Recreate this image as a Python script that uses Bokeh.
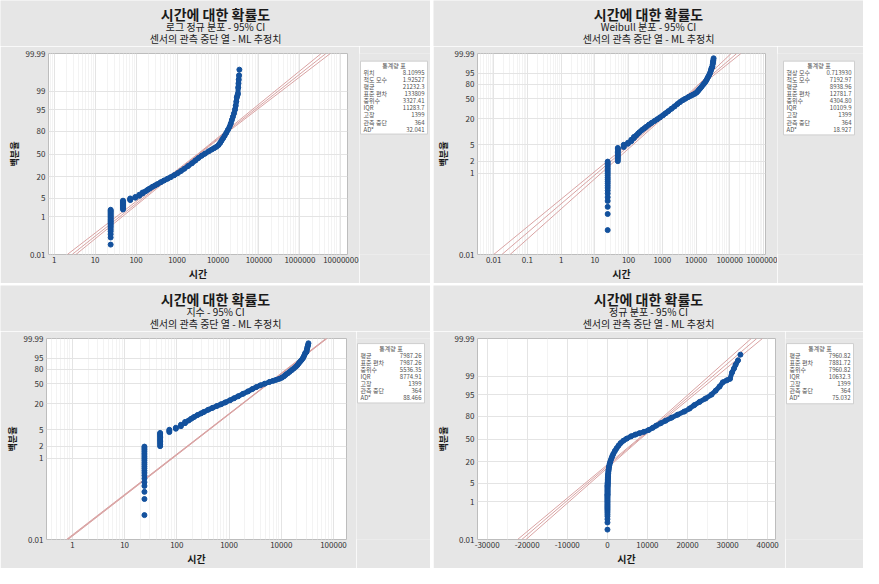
import math
from statistics import NormalDist
from bokeh.plotting import figure
from bokeh.models import FixedTicker, Range1d
from bokeh.core.properties import value
from bokeh.layouts import column, row
from bokeh.embed import file_html
from bokeh.resources import INLINE

# ---------------- data (hours, cumulative failure %) ----------------
cluster_hours = [24, 48, 72, 96, 120, 144]
cluster_pct = [
    [0.04, 0.10, 0.15, 0.21, 0.26, 0.32, 0.38, 0.44, 0.50, 0.57, 0.64, 0.72, 0.80,
     0.90, 1.00, 1.10, 1.22, 1.35, 1.50, 1.65, 1.80, 1.95],
    [2.00, 2.20, 2.40, 2.60, 2.80, 3.00, 3.25, 3.50, 3.75, 4.00, 4.20],
    [4.40, 4.70, 5.00],
    [5.30, 5.60],
    [6.10, 6.60],
    [7.20, 7.70],
]
band_hours = [168, 190, 213, 250, 290, 330, 400, 480, 586, 700, 850, 1045, 1250, 1500,
              1862, 2300, 2800, 3313, 4000, 4800, 5930, 7000, 8000, 9130, 10300, 11300,
              12200, 13300, 14500, 16000, 17500, 19200, 20500, 21700, 23000, 24500,
              26000, 27000, 28000, 28800, 29800, 30600, 31100, 31600, 32000, 32600]
band_pct = [8.3, 9.2, 10.0, 11.2, 12.2, 13.2, 14.8, 16.3, 18.0, 19.6, 21.6, 24.0, 26.5,
            29.2, 32.8, 36.5, 40.5, 44.0, 47.5, 50.5, 54.0, 56.5, 58.5, 60.5, 63.0, 66.0,
            69.0, 72.0, 75.0, 78.5, 81.5, 84.5, 87.0, 89.5, 91.5, 93.3, 95.0, 96.3, 97.4,
            98.2, 98.5, 98.7, 99.3, 99.55, 99.7, 99.82]
last_hours = [33200]
last_pct = [99.91]

# fitted line and 95% CI (hours at 0.01 %, 50 %, 99.99 %)
fit_pct = [0.01, 50, 99.99]
fit_lognormal = {"lo": [2.1, 3200, 3.3e6], "mid": [2.75, 3327, 4.3e6], "hi": [3.4, 3460, 5.5e6]}
fit_weibull = {"lo": [0.0100, 4150, 110000], "mid": [0.0175, 4305, 161000], "hi": [0.0306, 4460, 214000]}
fit_expo = {"lo": [0.77, 5430, 71500], "mid": [0.80, 5536, 73560], "hi": [0.83, 5640, 75600]}
fit_normal = {"lo": [-22400, 7700, 35900], "mid": [-21350, 7961, 37274], "hi": [-20300, 8220, 38700]}

# axis ticks
log_ticks_lognormal = [1, 10, 100, 1000, 10000, 100000, 1000000, 10000000]
log_ticks_weibull = [0.01, 0.1, 1, 10, 100, 1000, 10000, 100000, 1000000]
log_ticks_expo = [1, 10, 100, 1000, 10000, 100000]
lin_ticks_normal = [-30000, -20000, -10000, 0, 10000, 20000, 30000, 40000]
y_ticks_normal = [0.01, 1, 5, 20, 50, 80, 95, 99, 99.99]
y_ticks_weibull = [0.01, 1, 2, 5, 20, 50, 80, 95, 99.99]

# texts
title_main = "시간에 대한 확률도"
title_sub2 = "센서의 관측 중단 열 - ML 추정치"
subtitles = ["로그 정규 분포 - 95% CI", "Weibull 분포 - 95% CI", "지수 - 95% CI", "정규 분포 - 95% CI"]
x_label = "시간"
y_label = "백분율"
stat_header = "통계량 표"
stats_lognormal = [("위치", "8.10995"), ("척도 모수", "1.92527"), ("평균", "21232.3"),
                   ("표준 편차", "133809"), ("중위수", "3327.41"), ("IQR", "11283.7"),
                   ("고장", "1399"), ("관측 중단", "364"), ("AD*", "32.041")]
stats_weibull = [("형상 모수", "0.713930"), ("척도 모수", "7192.97"), ("평균", "8938.96"),
                 ("표준 편차", "12781.7"), ("중위수", "4304.80"), ("IQR", "10109.9"),
                 ("고장", "1399"), ("관측 중단", "364"), ("AD*", "18.927")]
stats_expo = [("평균", "7987.26"), ("표준 편차", "7987.26"), ("중위수", "5536.35"),
              ("IQR", "8774.91"), ("고장", "1399"), ("관측 중단", "364"), ("AD*", "88.466")]
stats_normal = [("평균", "7960.82"), ("표준 편차", "7881.72"), ("중위수", "7960.82"),
                ("IQR", "10632.3"), ("고장", "1399"), ("관측 중단", "364"), ("AD*", "75.032")]

# ---------------- styling ----------------
FONT = "Noto Sans CJK KR"
BG = "#e6e6e6"
DOT = "#13519d"
FITC = "#d9a3a3"
TXT = "#1a1a1a"
STXT = "#505050"
W, H = 430, 283
TH = 46          # height of the title strip
TOP = 7          # border above the frame inside the plot figure
BOTTOM = 27
ND = NormalDist()


def zq(p):
    return ND.inv_cdf(p / 100.0)


def wq(p):
    return math.log(-math.log(1.0 - p / 100.0))


def blank(width, height):
    f = figure(width=width, height=height, x_range=Range1d(0, width), y_range=Range1d(0, height),
               output_backend="svg", toolbar_location=None, tools="",
               x_axis_location=None, y_axis_location=None,
               min_border_left=0, min_border_right=0, min_border_top=0, min_border_bottom=0,
               background_fill_color=BG, border_fill_color=BG, outline_line_color=None)
    f.grid.visible = False
    f.title.visible = False
    return f


def make_panel(kind, sub, stats, fit, left, fw, rb, box):
    ph = H - TH
    pw = left + fw + rb
    sw = W - pw
    if kind == "normal":
        ytf = zq
        xr = Range1d(-32400, 41950)
        xtype = "linear"
        xt = lin_ticks_normal
        xminor = [v + 5000 for v in lin_ticks_normal[:-1]]
        xlabels = [str(v) for v in lin_ticks_normal]
        yt = y_ticks_normal
    else:
        xtype = "log"
        if kind == "lognormal":
            ytf = zq
            xr = Range1d(10 ** -0.137, 10 ** 7.16)
            xt = log_ticks_lognormal
            yt = y_ticks_normal
        elif kind == "weibull":
            ytf = wq
            xr = Range1d(10 ** -2.48, 10 ** 6.06)
            xt = log_ticks_weibull
            yt = y_ticks_weibull
        else:
            ytf = wq
            xr = Range1d(10 ** -0.495, 10 ** 5.25)
            xt = log_ticks_expo
            yt = y_ticks_weibull
        xminor = []
        for d in [xt[0] / 10] + xt:
            for k in range(2, 10):
                v = d * k
                if xr.start <= v <= xr.end:
                    xminor.append(v)
        xlabels = [("%g" % v) if v < 1 else str(int(v)) for v in xt]
    yr = Range1d(ytf(0.01), ytf(99.99))

    p = figure(width=pw, height=ph, x_axis_type=xtype, x_range=xr, y_range=yr,
               output_backend="svg", toolbar_location=None, tools="",
               min_border_left=left, min_border_right=rb,
               min_border_top=TOP, min_border_bottom=BOTTOM,
               background_fill_color="white", border_fill_color=BG,
               outline_line_color="#bdbdbd")
    p.title.visible = False

    p.xaxis.ticker = FixedTicker(ticks=xt, minor_ticks=xminor)
    p.xaxis.major_label_overrides = {float(v): s for v, s in zip(xt, xlabels)}
    ytick_pos = [ytf(v) for v in yt]
    p.yaxis.ticker = FixedTicker(ticks=ytick_pos)
    p.yaxis.major_label_overrides = {pos: ("%g" % v) for pos, v in zip(ytick_pos, yt)}
    for ax in (p.xaxis[0], p.yaxis[0]):
        ax.axis_line_color = None
        ax.major_tick_in = 0
        ax.major_tick_out = 0
        ax.minor_tick_in = 0
        ax.minor_tick_out = 0
        ax.major_label_text_font = FONT
        ax.major_label_text_font_size = "8px"
        ax.major_label_text_color = "#333333"
        ax.axis_label_text_font = FONT
        ax.axis_label_text_font_style = "bold"
        ax.axis_label_text_color = TXT
    p.xaxis.major_label_standoff = 2
    p.yaxis.major_label_standoff = 3
    p.xaxis.axis_label = x_label
    p.xaxis.axis_label_text_font_size = "10px"
    p.xaxis.axis_label_standoff = 0
    p.yaxis.axis_label = y_label
    p.yaxis.axis_label_text_font_size = "9px"
    p.yaxis.axis_label_standoff = 2
    p.xgrid.grid_line_color = "#e4e4e4"
    p.xgrid.minor_grid_line_color = "#f3f3f3"
    p.ygrid.grid_line_color = "#e4e4e4"

    # fitted line and CI
    for key in ("lo", "mid", "hi"):
        p.line(fit[key], [ytf(v) for v in fit_pct], line_color=FITC, line_width=1)

    # data points
    for hrs, pcts in zip(cluster_hours, cluster_pct):
        p.scatter([hrs] * len(pcts), [ytf(v) for v in pcts], size=5, color=DOT)
    bandy = [ytf(v) for v in band_pct]
    p.line(band_hours, bandy, line_color=DOT, line_width=5, line_cap="round", line_join="round")
    p.scatter(band_hours, bandy, size=5, color=DOT)
    p.scatter(last_hours, [ytf(v) for v in last_pct], size=5, color=DOT)

    # title strip
    t = blank(W, TH)
    t.text([W / 2], [TH - 13], text=[title_main], text_align="center", text_baseline="middle",
           text_font=value(FONT), text_font_size="14px", text_font_style="bold", text_color=TXT)
    t.text([W / 2, W / 2], [TH - 25.5, TH - 37.5], text=[sub, title_sub2], text_align="center",
           text_baseline="middle", text_font=value(FONT), text_font_size="10px", text_color=TXT)

    # statistics table strip
    s = blank(sw, ph)
    dx, bw, btop, bh = box
    bl = dx - rb
    br = bl + bw
    bt = ph - TOP - btop
    bb = bt - bh
    s.quad(left=[bl], right=[br], top=[bt], bottom=[bb], fill_color="white",
           line_color="#cfcfcf", line_width=1)
    s.text([(bl + br) / 2], [bt - 5.5], text=[stat_header], text_align="center",
           text_baseline="middle", text_font=value(FONT), text_font_size="6px",
           text_color=STXT)
    ys = [bt - 13.5 - 8.33 * i for i in range(len(stats))]
    s.text([bl + 3] * len(stats), ys, text=[nm for nm, _ in stats], text_align="left",
           text_baseline="middle", text_font=value(FONT), text_font_size="6px",
           text_color=STXT)
    s.text([br - 3] * len(stats), ys, text=[v for _, v in stats], text_align="right",
           text_baseline="middle", text_font=value(FONT), text_font_size="6px",
           text_color=STXT)
    return column(t, row(p, s, spacing=0), spacing=0)


p1 = make_panel("lognormal", subtitles[0], stats_lognormal, fit_lognormal, 48, 299, 12, (13, 67, 2, 86))
p2 = make_panel("weibull", subtitles[1], stats_weibull, fit_weibull, 44, 288, 12, (18, 71, 2, 87))
p3 = make_panel("expo", subtitles[2], stats_expo, fit_expo, 46, 300, 10, (11, 67, -1, 70))
p4 = make_panel("normal", subtitles[3], stats_normal, fit_normal, 44, 298, 10, (11, 67, -1, 71))

layout = column(row(p1, p2, spacing=3), row(p3, p4, spacing=3), spacing=2)
open("out.html", "w").write(file_html(layout, INLINE))
